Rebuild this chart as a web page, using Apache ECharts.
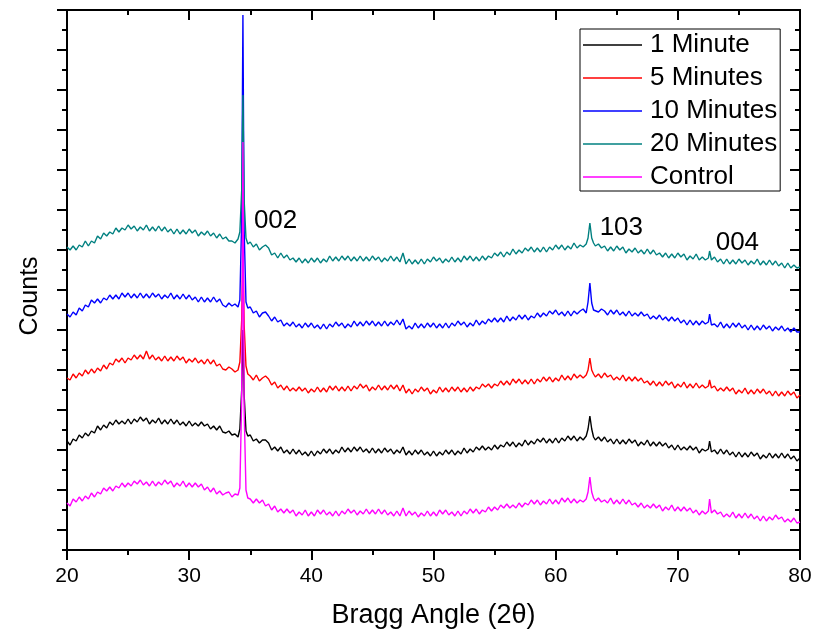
<!DOCTYPE html>
<html>
<head>
<meta charset="utf-8">
<script src="https://cdn.jsdelivr.net/npm/echarts@6/dist/echarts.min.js"></script>
<style>
  html, body { margin: 0; padding: 0; background: #ffffff; }
  #chart { width: 815px; height: 637px; }
</style>
</head>
<body>
<div id="chart"></div>
<script>
// Scan positions (degrees 2θ), finer sampling around the reflections
const twoTheta = [
  20, 20.25, 20.5, 20.75,
  21, 21.25, 21.5, 21.75,
  22, 22.25, 22.5, 22.75,
  23, 23.25, 23.5, 23.75,
  24, 24.25, 24.5, 24.75,
  25, 25.25, 25.5, 25.75,
  26, 26.25, 26.5, 26.75,
  27, 27.25, 27.5, 27.75,
  28, 28.25, 28.5, 28.75,
  29, 29.25, 29.5, 29.75,
  30, 30.25, 30.5, 30.75,
  31, 31.25, 31.5, 31.75,
  32, 32.25, 32.5, 32.75,
  33, 33.25, 33.5, 33.75,
  34, 34.15, 34.3, 34.4, 34.5, 34.65, 34.8,
  35, 35.25, 35.5, 35.75,
  36, 36.25, 36.5, 36.75,
  37, 37.25, 37.5, 37.75,
  38, 38.25, 38.5, 38.75,
  39, 39.25, 39.5, 39.75,
  40, 40.25, 40.5, 40.75,
  41, 41.25, 41.5, 41.75,
  42, 42.25, 42.5, 42.75,
  43, 43.25, 43.5, 43.75,
  44, 44.25, 44.5, 44.75,
  45, 45.25, 45.5, 45.75,
  46, 46.25, 46.5, 46.75,
  47, 47.25, 47.5, 47.75,
  48, 48.25, 48.5, 48.75,
  49, 49.25, 49.5, 49.75,
  50, 50.25, 50.5, 50.75,
  51, 51.25, 51.5, 51.75,
  52, 52.25, 52.5, 52.75,
  53, 53.25, 53.5, 53.75,
  54, 54.25, 54.5, 54.75,
  55, 55.25, 55.5, 55.75,
  56, 56.25, 56.5, 56.75,
  57, 57.25, 57.5, 57.75,
  58, 58.25, 58.5, 58.75,
  59, 59.25, 59.5, 59.75,
  60, 60.25, 60.5, 60.75,
  61, 61.25, 61.5, 61.75,
  62, 62.25, 62.5, 62.65, 62.8, 62.95,
  63.1, 63.25, 63.5, 63.75,
  64, 64.25, 64.5, 64.75,
  65, 65.25, 65.5, 65.75,
  66, 66.25, 66.5, 66.75,
  67, 67.25, 67.5, 67.75,
  68, 68.25, 68.5, 68.75,
  69, 69.25, 69.5, 69.75,
  70, 70.25, 70.5, 70.75,
  71, 71.25, 71.5, 71.75,
  72, 72.25, 72.5, 72.6, 72.75,
  73, 73.25, 73.5, 73.75,
  74, 74.25, 74.5, 74.75,
  75, 75.25, 75.5, 75.75,
  76, 76.25, 76.5, 76.75,
  77, 77.25, 77.5, 77.75,
  78, 78.25, 78.5, 78.75,
  79, 79.25, 79.5, 79.75,
  80
];

// Intensities (arbitrary counts, patterns stacked with offsets)
const oneMinute = [
  109, 105, 111, 109,
  115, 112, 117, 114,
  119, 117, 124, 120,
  125, 122, 128, 125,
  130, 126, 129, 126,
  131, 126, 131, 128,
  133, 129, 132, 126,
  130, 127, 132, 126,
  130, 126, 131, 126,
  130, 125, 128, 124,
  129, 124, 127, 124,
  128, 124, 126, 121,
  124, 120, 124, 118,
  117, 119, 115, 116,
  113, 121, 160, 220, 155, 119, 114,
  115, 109, 111, 107,
  110, 110, 107, 100,
  103, 99, 103, 97,
  100, 96, 101, 96,
  100, 95, 98, 94,
  99, 94, 99, 96,
  101, 97, 101, 96,
  100, 97, 103, 98,
  102, 98, 103, 99,
  103, 98, 101, 97,
  102, 97, 101, 97,
  102, 98, 101, 96,
  100, 97, 103, 95,
  99, 95, 100, 96,
  100, 95, 98, 94,
  99, 94, 98, 95,
  100, 96, 100, 95,
  99, 96, 102, 97,
  101, 98, 103, 100,
  104, 100, 103, 100,
  105, 101, 105, 103,
  108, 104, 108, 103,
  107, 104, 110, 105,
  109, 106, 111, 108,
  112, 107, 111, 107,
  112, 107, 112, 109,
  114, 110, 114, 109,
  113, 110, 114, 121, 134, 121,
  113, 110, 113, 109,
  113, 108, 111, 106,
  111, 106, 110, 106,
  111, 107, 110, 104,
  108, 105, 110, 104,
  108, 104, 108, 104,
  107, 102, 105, 100,
  105, 100, 103, 100,
  104, 100, 103, 97,
  101, 99, 101, 109, 98,
  100, 96, 101, 96,
  100, 95, 98, 93,
  98, 93, 97, 93,
  98, 94, 97, 91,
  95, 92, 97, 92,
  96, 92, 97, 92,
  96, 91, 94, 89,
  92
];

const fiveMinutes = [
  172, 170, 176, 172,
  177, 174, 180, 176,
  181, 177, 182, 179,
  185, 181, 187, 185,
  191, 188, 192, 187,
  192, 190, 195, 191,
  195, 191, 199, 191,
  195, 190, 193, 189,
  194, 189, 193, 189,
  194, 190, 193, 187,
  191, 188, 192, 187,
  190, 186, 191, 186,
  190, 184, 186, 181,
  180, 183, 181, 178,
  180, 188, 230, 300, 225, 184, 176,
  174, 170, 175, 169,
  172, 174, 171, 165,
  168, 162, 165, 160,
  164, 159, 162, 159,
  163, 159, 162, 157,
  161, 158, 163, 158,
  162, 158, 164, 160,
  164, 159, 163, 159,
  164, 159, 164, 161,
  166, 162, 165, 159,
  163, 160, 165, 160,
  164, 160, 165, 161,
  165, 159, 165, 157,
  161, 156, 161, 158,
  163, 159, 162, 156,
  160, 157, 163, 158,
  162, 158, 163, 159,
  163, 158, 162, 158,
  163, 159, 163, 161,
  166, 163, 166, 162,
  166, 164, 169, 165,
  169, 165, 171, 167,
  171, 166, 170, 166,
  171, 166, 171, 168,
  173, 169, 173, 168,
  172, 169, 175, 170,
  174, 170, 176, 172,
  175, 172, 175, 180, 192, 180,
  176, 173, 176, 172,
  177, 173, 175, 170,
  173, 170, 175, 169,
  173, 169, 173, 169,
  172, 167, 169, 165,
  169, 164, 168, 164,
  169, 165, 168, 162,
  166, 163, 168, 162,
  166, 162, 167, 162,
  165, 162, 164, 170, 162,
  164, 159, 162, 159,
  163, 159, 162, 156,
  160, 157, 162, 156,
  160, 156, 161, 157,
  161, 156, 159, 154,
  159, 154, 158, 154,
  159, 155, 158, 152,
  155
];

const tenMinutes = [
  236, 233, 238, 235,
  242, 239, 245, 243,
  250, 247, 251, 247,
  252, 250, 255, 251,
  255, 251, 257, 253,
  257, 252, 256, 252,
  257, 252, 256, 252,
  257, 253, 256, 251,
  255, 252, 257, 251,
  255, 251, 256, 251,
  255, 250, 253, 248,
  253, 248, 252, 248,
  253, 248, 251, 245,
  243, 247, 244, 246,
  243, 250, 330, 535, 320, 248, 242,
  243, 237, 239, 233,
  237, 238, 234, 229,
  233, 228, 230, 224,
  227, 224, 228, 223,
  226, 222, 227, 223,
  227, 222, 225, 221,
  226, 221, 226, 223,
  228, 224, 227, 222,
  226, 223, 229, 224,
  228, 224, 229, 225,
  229, 224, 228, 224,
  229, 224, 228, 225,
  230, 225, 231, 221,
  224, 221, 227, 222,
  226, 222, 227, 223,
  227, 222, 226, 222,
  227, 222, 227, 224,
  229, 225, 228, 223,
  227, 224, 230, 225,
  229, 226, 231, 228,
  232, 228, 232, 228,
  234, 229, 233, 230,
  235, 231, 235, 230,
  234, 232, 237, 233,
  237, 234, 239, 236,
  240, 235, 238, 234,
  239, 234, 239, 236,
  239, 241, 237, 248, 267, 247,
  240, 242, 238, 241,
  239, 235, 240, 236,
  240, 235, 238, 234,
  239, 234, 237, 234,
  238, 234, 236, 231,
  234, 231, 235, 230,
  233, 229, 233, 229,
  232, 227, 230, 225,
  230, 225, 229, 225,
  229, 226, 228, 236, 225,
  226, 223, 228, 222,
  226, 222, 227, 223,
  227, 222, 225, 220,
  225, 220, 224, 220,
  225, 221, 224, 219,
  223, 220, 224, 219,
  222, 218, 222, 218,
  218
];

const twentyMinutes = [
  303, 300, 304, 300,
  305, 303, 309, 304,
  309, 307, 314, 311,
  317, 314, 318, 316,
  322, 318, 322, 320,
  325, 321, 324, 319,
  323, 320, 325, 319,
  323, 319, 324, 319,
  323, 318, 321, 316,
  321, 316, 320, 316,
  321, 317, 320, 314,
  318, 315, 319, 314,
  317, 312, 316, 311,
  313, 309, 309, 307,
  311, 318, 360, 455, 350, 312, 306,
  308, 303, 306, 300,
  303, 305, 302, 295,
  297, 292, 297, 292,
  295, 290, 292, 288,
  292, 287, 291, 287,
  292, 288, 292, 287,
  291, 288, 294, 289,
  293, 289, 294, 290,
  294, 289, 293, 289,
  294, 289, 293, 289,
  294, 290, 293, 288,
  292, 289, 294, 289,
  293, 288, 297, 286,
  291, 286, 290, 286,
  291, 286, 291, 288,
  293, 289, 292, 287,
  291, 288, 293, 288,
  292, 288, 294, 290,
  294, 289, 293, 289,
  294, 290, 294, 292,
  297, 294, 298, 293,
  298, 295, 301, 296,
  300, 297, 302, 299,
  303, 298, 302, 298,
  303, 298, 303, 300,
  305, 301, 305, 300,
  304, 301, 307, 302,
  305, 303, 306, 312, 327, 312,
  307, 304, 306, 302,
  304, 299, 303, 299,
  304, 300, 303, 297,
  301, 298, 302, 297,
  300, 296, 301, 296,
  300, 295, 297, 293,
  297, 292, 296, 292,
  297, 293, 296, 290,
  294, 291, 296, 290,
  293, 290, 292, 299, 290,
  293, 288, 291, 286,
  291, 286, 290, 286,
  291, 287, 290, 285,
  289, 286, 291, 285,
  289, 285, 290, 285,
  289, 284, 287, 282,
  287, 282, 285, 282,
  283
];

const control = [
  47, 44, 51, 48,
  53, 49, 54, 51,
  57, 53, 58, 56,
  62, 59, 63, 59,
  64, 62, 67, 63,
  67, 64, 69, 66,
  70, 65, 68, 64,
  69, 64, 68, 65,
  70, 66, 69, 63,
  67, 64, 69, 63,
  67, 63, 67, 63,
  66, 60, 63, 58,
  62, 56, 59, 55,
  57, 58, 53, 56,
  55, 62, 150, 408, 140, 60, 52,
  51, 47, 51, 47,
  50, 44, 46, 40,
  44, 38, 41, 37,
  41, 37, 40, 34,
  38, 35, 40, 34,
  38, 34, 40, 36,
  40, 35, 38, 34,
  39, 34, 39, 36,
  41, 37, 40, 35,
  39, 36, 41, 36,
  40, 36, 41, 36,
  40, 35, 38, 34,
  39, 34, 42, 34,
  39, 35, 38, 33,
  37, 34, 39, 34,
  38, 34, 40, 36,
  40, 35, 38, 34,
  39, 34, 39, 36,
  41, 37, 41, 36,
  40, 38, 43, 39,
  43, 40, 45, 42,
  46, 42, 45, 42,
  47, 43, 47, 45,
  50, 46, 50, 45,
  49, 46, 51, 46,
  50, 46, 52, 48,
  52, 47, 51, 47,
  50, 48, 51, 58, 73, 58,
  52, 49, 52, 48,
  50, 47, 52, 46,
  50, 46, 51, 46,
  50, 45, 47, 43,
  47, 42, 45, 42,
  46, 42, 45, 39,
  43, 40, 45, 39,
  43, 39, 43, 39,
  42, 37, 40, 35,
  39, 36, 39, 51, 37,
  40, 36, 38, 33,
  36, 33, 38, 32,
  36, 32, 37, 32,
  36, 31, 34, 29,
  34, 29, 33, 30,
  35, 31, 33, 28,
  31, 28, 32, 27,
  28
];

const seriesNames = ['1 Minute', '5 Minutes', '10 Minutes', '20 Minutes', 'Control'];
const seriesValues = [oneMinute, fiveMinutes, tenMinutes, twentyMinutes, control];
const seriesColors = ['#000000', '#ff0000', '#0000ff', '#008080', '#ff00ff'];

const reflectionNames = ['002', '103', '004'];

const FONT = '"Liberation Sans", Arial, Helvetica, sans-serif';
const axisColor = '#000000';

function pairs(values) {
  const n = Math.min(values.length, twoTheta.length);
  const out = [];
  for (let i = 0; i < n; i++) out.push([twoTheta[i], values[i]]);
  return out;
}

const chart = echarts.init(document.getElementById('chart'), null, { renderer: 'canvas' });

const lineAxis = { show: true, onZero: false, lineStyle: { color: axisColor, width: 2 } };
const tickStyle = { color: axisColor, width: 2 };
const longTicks = [20, 60, 100, 140, 180, 220, 260, 300, 340, 380, 420, 460, 500, 540];

function yAxisDef(position, inside, length, custom) {
  const tick = { show: true, inside: inside, length: length, lineStyle: tickStyle };
  if (custom) tick.customValues = custom;
  return {
    type: 'value', position: position, min: 0, max: 540, interval: 20,
    axisLine: lineAxis, axisTick: tick,
    axisLabel: { show: false }, splitLine: { show: false }
  };
}

chart.setOption({
  animation: false,
  backgroundColor: '#ffffff',
  grid: { left: 67, top: 10, width: 733, height: 540, containLabel: false },
  legend: {
    left: 580, top: 29, orient: 'vertical',
    padding: [3, 3, 1, 3],
    borderColor: '#000000', borderWidth: 1,
    itemWidth: 59, itemHeight: 1.4, itemGap: 7,
    icon: 'rect',
    textStyle: { fontSize: 26, lineHeight: 26, color: '#000000', fontFamily: FONT, padding: [0, 0, 0, 3] },
    data: seriesNames
  },
  xAxis: [
    {
      type: 'value', position: 'bottom', min: 20, max: 80, interval: 10,
      axisLine: lineAxis,
      axisTick: { show: true, length: 10, lineStyle: tickStyle },
      minorTick: { show: true, splitNumber: 2, length: 5, lineStyle: tickStyle },
      axisLabel: { fontSize: 21, color: '#000000', fontFamily: FONT, margin: 16 },
      splitLine: { show: false },
      name: 'Bragg Angle (2θ)', nameLocation: 'middle', nameGap: 52,
      nameTextStyle: { fontSize: 27, color: '#000000', fontFamily: FONT }
    },
    {
      type: 'value', position: 'top', min: 20, max: 80, interval: 10,
      axisLine: lineAxis,
      axisTick: { show: true, inside: true, length: 10, lineStyle: tickStyle },
      minorTick: { show: true, splitNumber: 2, length: 5, lineStyle: tickStyle },
      axisLabel: { show: false },
      splitLine: { show: false }
    }
  ],
  yAxis: [
    yAxisDef('left', false, 5, null),
    yAxisDef('left', false, 10, longTicks),
    yAxisDef('right', true, 5, null),
    yAxisDef('right', true, 10, longTicks)
  ],
  series: seriesNames.map((name, i) => ({
    name: name,
    type: 'line',
    xAxisIndex: 0,
    yAxisIndex: 0,
    data: pairs(seriesValues[i]),
    showSymbol: false,
    symbol: 'none',
    smooth: false,
    color: seriesColors[i],
    lineStyle: { color: seriesColors[i], width: 1.4 },
    z: 2 + i
  }))
});

// Reflection labels placed in data coordinates, plus the vertical axis title
const labelAnchors = [[35.3, 329], [63.6, 322], [73.1, 307]];
const graphics = reflectionNames.map((txt, i) => {
  const p = chart.convertToPixel({ xAxisIndex: 0, yAxisIndex: 0 }, labelAnchors[i]);
  return {
    type: 'text', x: p[0], y: p[1], z: 20,
    style: { text: txt, fontSize: 26, fontFamily: FONT, fill: '#000000', align: 'left', verticalAlign: 'middle' }
  };
});
graphics.push({
  type: 'text', x: 30, y: 296, rotation: Math.PI / 2, z: 20,
  style: { text: 'Counts', fontSize: 25, fontFamily: FONT, fill: '#000000', align: 'center', verticalAlign: 'middle' }
});
chart.setOption({ graphic: graphics });
</script>
</body>
</html>
